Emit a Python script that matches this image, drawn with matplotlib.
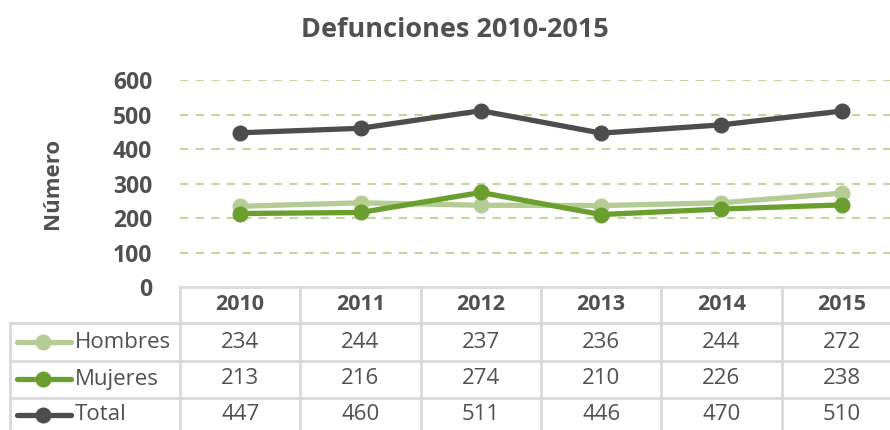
import matplotlib.pyplot as plt
from matplotlib.lines import Line2D
from matplotlib.transforms import blended_transform_factory

plt.rcParams['font.family'] = ['Open Sans', 'DejaVu Sans']

years = ['2010', '2011', '2012', '2013', '2014', '2015']
hombres = [234, 244, 237, 236, 244, 272]
mujeres = [213, 216, 274, 210, 226, 238]
total = [447, 460, 511, 446, 470, 510]
series_names = ['Hombres', 'Mujeres', 'Total']
series_colors = ['#b5cd95', '#6a9f2f', '#4d4d4d']
yticks = [0, 100, 200, 300, 400, 500, 600]

text_color = '#505050'
grid_color = '#c3d69f'
table_color = '#d9d9d9'

W, H = 890, 430
fig = plt.figure(figsize=(W / 100, H / 100), dpi=100)

# plot area in pixel terms -> figure fractions
left, right, top, bottom = 180, 902, 80, 287
ax = fig.add_axes([left / W, 1 - bottom / H, (right - left) / W, (bottom - top) / H])
ax.set_xlim(-0.5, len(years) - 0.5)
ax.set_ylim(0, 600)

x = list(range(len(years)))
for vals, color in zip([hombres, mujeres, total], series_colors):
    ax.plot(x, vals, color=color, lw=3.8, marker='o', ms=10.5,
            solid_joinstyle='round', solid_capstyle='round', zorder=3)

ax.set_yticks(yticks)
ax.set_yticklabels([str(t) for t in yticks], fontsize=16.5, fontweight='bold',
                   color=text_color)
ax.tick_params(axis='y', length=0, pad=20)
ax.set_xticks([])
for t in yticks[1:]:
    ax.axhline(t, color=grid_color, lw=1.5, ls=(0, (4, 3.5)), zorder=1)
for s in ax.spines.values():
    s.set_visible(False)
ax.set_ylabel('Número', fontsize=16, fontweight='bold', color=text_color)
ax.yaxis.set_label_coords(-(left - 63) / (right - left), 0.5)

fig.suptitle('Defunciones 2010-2015', x=455 / W, y=1 - 30 / H, va='center',
             fontsize=19.5, fontweight='bold', color=text_color)

# data table under the plot
tr = blended_transform_factory(ax.transData, fig.transFigure)
px = fig.transFigure


def fy(p):
    return 1 - p / H


row_lines = [323, 361, 398]
row_centers = [342, 379, 415]

fig.add_artist(Line2D([left / W, 1], [fy(287), fy(287)], transform=px,
                      color=table_color, lw=2))
for yl in row_lines:
    fig.add_artist(Line2D([10 / W, 1], [fy(yl), fy(yl)], transform=px,
                          color=table_color, lw=2))
fig.add_artist(Line2D([10 / W, 10 / W], [fy(323), 0], transform=px,
                      color=table_color, lw=2))
for i in range(len(years)):
    xb = i - 0.5
    fig.add_artist(Line2D([xb, xb], [fy(287), 0], transform=tr,
                          color=table_color, lw=2))

for i, yr in enumerate(years):
    fig.text(i, fy(305), yr, transform=tr, ha='center', va='center',
             fontsize=15.5, fontweight='bold', color=text_color)

for vals, name, color, yc in zip([hombres, mujeres, total], series_names,
                                 series_colors, row_centers):
    fig.add_artist(Line2D([17 / W, 71 / W], [fy(yc), fy(yc)], transform=px,
                          color=color, lw=3.8, solid_capstyle='round'))
    fig.add_artist(Line2D([43 / W], [fy(yc)], transform=px, color=color,
                          marker='o', ms=10.5))
    fig.text(75 / W, fy(yc), name, ha='left', va='center', fontsize=16,
             color=text_color)
    for i, v in enumerate(vals):
        fig.text(i, fy(yc), str(v), transform=tr, ha='center', va='center',
                 fontsize=16, color=text_color)

fig.savefig('out.png', dpi=100)
